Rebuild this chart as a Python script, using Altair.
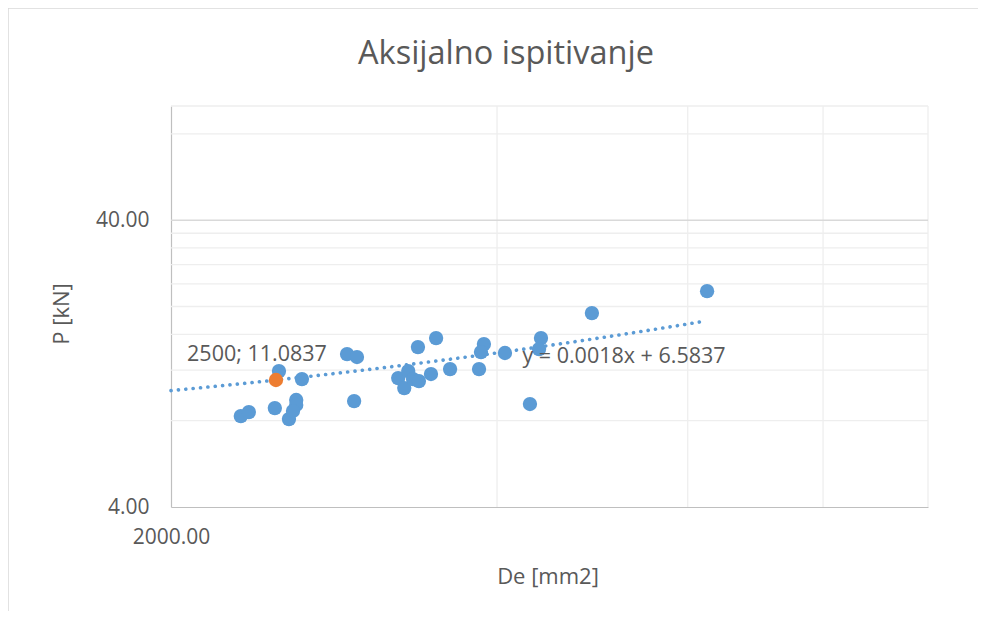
import altair as alt
import pandas as pd

# Data
de = [2320, 2360, 2494, 2516, 2570, 2610, 2610, 2592, 2642, 2908, 2970, 2952,
      3242, 3312, 3284, 3346, 3388, 3381, 3514, 3476, 3620, 3850, 3890, 3866,
      4068, 4290, 4392, 4374, 4894, 6252]
p = [8.30, 8.57, 8.85, 11.91, 8.10, 9.44, 9.07, 8.64, 11.17, 13.65, 13.33, 9.36,
     11.26, 11.91, 10.39, 11.17, 10.99, 14.44, 15.52, 11.63, 12.10, 12.10, 14.79, 13.87,
     13.77, 9.14, 15.52, 14.21, 18.97, 22.62]
highlight_de = [2500]
highlight_p = [11.0837]
highlight_label = ["2500; 11.0837"]
slope = 0.0018
intercept = 6.5837
trend_start = 2000
trend_end = 6252
equation = ["y = 0.0018x + 6.5837"]
equation_pos_de = [5240]
equation_pos_p = [13.3]
y_major_grid = [40]
y_minor_grid = [8, 12, 16, 20, 24, 28, 32, 36, 80, 100]
x_grid = [4000, 6000, 8000, 10000]
y_tick_values = [4, 40]
x_tick_values = [2000]

FONT = "Open Sans"
TXT = "#595959"
BLUE = "#5B9BD5"
ORANGE = "#ED7D31"

W, H = 757, 401

xscale = alt.Scale(type="log", domain=[2000, 10000], nice=False)
yscale = alt.Scale(type="log", domain=[4, 100], nice=False)

xaxis = alt.Axis(values=x_tick_values, format=".2f", grid=False, ticks=False,
                 domainColor="#BFBFBF", domainWidth=1.2, labelFont=FONT,
                 labelFontSize=21, labelColor=TXT, labelPadding=19,
                 labelFlush=False, title=None)
yaxis = alt.Axis(values=y_tick_values, format=".2f", grid=False, ticks=False,
                 domainColor="#BFBFBF", domainWidth=1.2, labelFont=FONT,
                 labelFontSize=21, labelColor=TXT, labelPadding=22,
                 labelFlush=False, title=None)

X = lambda f: alt.X(f, scale=xscale, axis=xaxis)
Y = lambda f: alt.Y(f, scale=yscale, axis=yaxis)

pts_df = pd.DataFrame({"De": de, "P": p})
hl_df = pd.DataFrame({"De": highlight_de, "P": highlight_p, "label": highlight_label})

minor_y = alt.Chart(pd.DataFrame({"P": y_minor_grid})).mark_rule(
    color="#EEEEEE", strokeWidth=1.3).encode(y=Y("P:Q"))
major_y = alt.Chart(pd.DataFrame({"P": y_major_grid})).mark_rule(
    color="#D9D9D9", strokeWidth=1.5).encode(y=Y("P:Q"))
grid_x = alt.Chart(pd.DataFrame({"De": x_grid})).mark_rule(
    color="#EEEEEE", strokeWidth=1.3).encode(x=X("De:Q"))

trend = alt.Chart(alt.sequence(trend_start, trend_end + 1, 20, as_="De")).transform_calculate(
    P=f"{slope} * datum.De + {intercept}"
).mark_line(color=BLUE, strokeWidth=3.6, strokeDash=[0.1, 7.3], strokeCap="round").encode(
    x=X("De:Q"), y=Y("P:Q"))

points = alt.Chart(pts_df).mark_circle(size=205, opacity=1, color=BLUE).encode(
    x=X("De:Q"), y=Y("P:Q"))
hl_point = alt.Chart(hl_df).mark_circle(size=205, opacity=1, color=ORANGE).encode(
    x=X("De:Q"), y=Y("P:Q"))
hl_text = alt.Chart(hl_df).mark_text(font=FONT, fontSize=21.5, color=TXT, dx=-19, dy=-25).encode(
    x=X("De:Q"), y=Y("P:Q"), text="label:N")

eq_text = alt.Chart(pd.DataFrame({"De": equation_pos_de, "P": equation_pos_p, "t": equation})).mark_text(
    font=FONT, fontSize=21.5, color=TXT).encode(x=X("De:Q"), y=Y("P:Q"), text="t:N")

one = pd.DataFrame({"t": ["Aksijalno ispitivanje"]})
title = alt.Chart(one).mark_text(font=FONT, fontSize=32.5, color=TXT, baseline="middle").encode(
    x=alt.value(335), y=alt.value(-52), text="t:N")
ytitle = alt.Chart(pd.DataFrame({"t": ["P [kN]"]})).mark_text(
    font=FONT, fontSize=22, color=TXT, angle=270, baseline="middle").encode(
    x=alt.value(-109), y=alt.value(208), text="t:N")
xtitle = alt.Chart(pd.DataFrame({"t": ["De [mm2]"]})).mark_text(
    font=FONT, fontSize=22, color=TXT, baseline="middle").encode(
    x=alt.value(377), y=alt.value(471), text="t:N")

border_left = alt.Chart(one).mark_rule(color="#D9D9D9", strokeWidth=1.5).encode(
    x=alt.value(-163), y=alt.value(-98), y2=alt.value(530))
border_top = alt.Chart(one).mark_rule(color="#D9D9D9", strokeWidth=1.5).encode(
    x=alt.value(-163), x2=alt.value(850), y=alt.value(-98))

chart = alt.layer(
    minor_y, grid_x, major_y, trend, points, hl_point, hl_text, eq_text,
    title, ytitle, xtitle, border_left, border_top
).properties(
    width=W, height=H,
    autosize=alt.AutoSizeParams(type="none"),
    padding={"left": 163, "top": 98, "right": 50, "bottom": 104},
).configure_view(stroke=None)

chart.save("out.html", embed_options={"renderer": "svg", "actions": False})
